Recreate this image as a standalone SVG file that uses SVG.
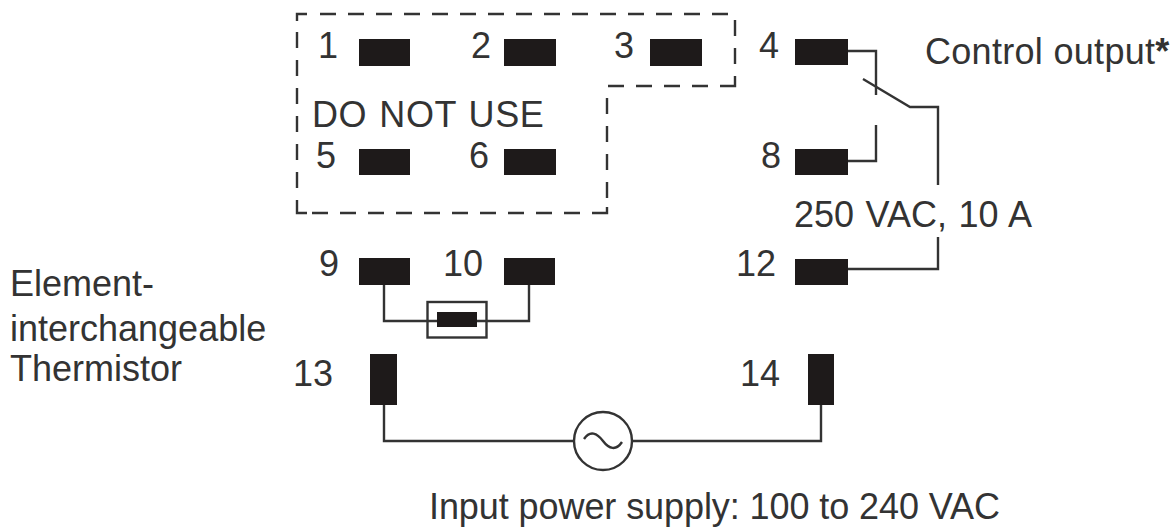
<svg xmlns="http://www.w3.org/2000/svg" width="1176" height="531" viewBox="0 0 1176 531">
<style>
.t{font-family:"Liberation Sans",Arial,sans-serif;font-size:36px;fill:#333}
.p{fill:#1e1a1a}
.w{fill:none;stroke:#333;stroke-width:2.4}
.d{fill:none;stroke:#333;stroke-width:2.4;stroke-dasharray:16 12}
</style>
<rect width="1176" height="531" fill="#fff"/>
<g id="connectors">
<path class="w" d="M297 21V14H307"/>
<path class="d" d="M320 14H731"/>
<path class="d" d="M735 20V66"/>
<path class="w" d="M735 76V86H720"/>
<path class="d" d="M608 86H708"/>
<path class="d" d="M607 98V198"/>
<path class="w" d="M607 207V213H592"/>
<path class="d" d="M312 213H580"/>
<path class="w" d="M307 213H297V200"/>
<path class="d" d="M297 32V188"/>
<path class="w" d="M848 51H876V95"/>
<path class="w" d="M863 79L910 107H938V185"/>
<path class="w" d="M848 161H876V125"/>
<path class="w" d="M848 269H938V237"/>
<path class="w" d="M384 284V321H437M477 321H529V284"/>
<path class="w" d="M384 404V441H574M632 441H821V404"/>
</g>
<g id="p1"><rect class="p" x="359" y="39" width="51" height="27"/><text class="t" x="318" y="58">1</text></g>
<g id="p2"><rect class="p" x="504" y="39" width="52" height="27"/><text class="t" x="471" y="58">2</text></g>
<g id="p3"><rect class="p" x="650" y="39" width="52" height="27"/><text class="t" x="614" y="58">3</text></g>
<g id="p4"><rect class="p" x="795" y="39" width="53" height="26"/><text class="t" x="759" y="58">4</text></g>
<g id="p5"><rect class="p" x="359" y="149" width="51" height="26"/><text class="t" x="316" y="168">5</text></g>
<g id="p6"><rect class="p" x="504" y="149" width="52" height="26"/><text class="t" x="469" y="168">6</text></g>
<g id="p8"><rect class="p" x="795" y="149" width="53" height="26"/><text class="t" x="761" y="168">8</text></g>
<g id="p9"><rect class="p" x="359" y="258" width="51" height="27"/><text class="t" x="319" y="276">9</text></g>
<g id="p10"><rect class="p" x="504" y="258" width="51" height="27"/><text class="t" x="443" y="276">10</text></g>
<g id="p12"><rect class="p" x="795" y="259" width="53" height="26"/><text class="t" x="736" y="276">12</text></g>
<g id="p13"><rect class="p" x="370" y="354" width="27" height="51"/><text class="t" x="293" y="386">13</text></g>
<g id="p14"><rect class="p" x="808" y="354" width="26" height="51"/><text class="t" x="740" y="386">14</text></g>
<g id="thermistor"><rect x="427.500" y="302" width="59" height="35.500" fill="none" stroke="#333" stroke-width="2.400"/><rect class="p" x="437" y="312" width="40" height="15"/></g>
<g id="ac"><circle cx="603" cy="441" r="29" fill="#fff" stroke="#333" stroke-width="2.400"/><path class="w" d="M584 439C590 430 597 433 603 441S616 451 622 442"/></g>
<g id="labels">
<text class="t" x="312" y="127" style="letter-spacing:.6px;word-spacing:1.500px">DO NOT USE</text>
<text class="t" x="925" y="64" style="letter-spacing:.3px">Control output<tspan font-weight="700">*</tspan></text>
<text class="t" x="794" y="227" style="word-spacing:1.500px">250 VAC, 10 A</text>
<text class="t" x="10" y="296">Element-</text>
<text class="t" x="10" y="341">interchangeable</text>
<text class="t" x="10" y="381">Thermistor</text>
<text class="t" x="429" y="519" textLength="571">Input power supply: 100 to 240 VAC</text>
</g>
</svg>
